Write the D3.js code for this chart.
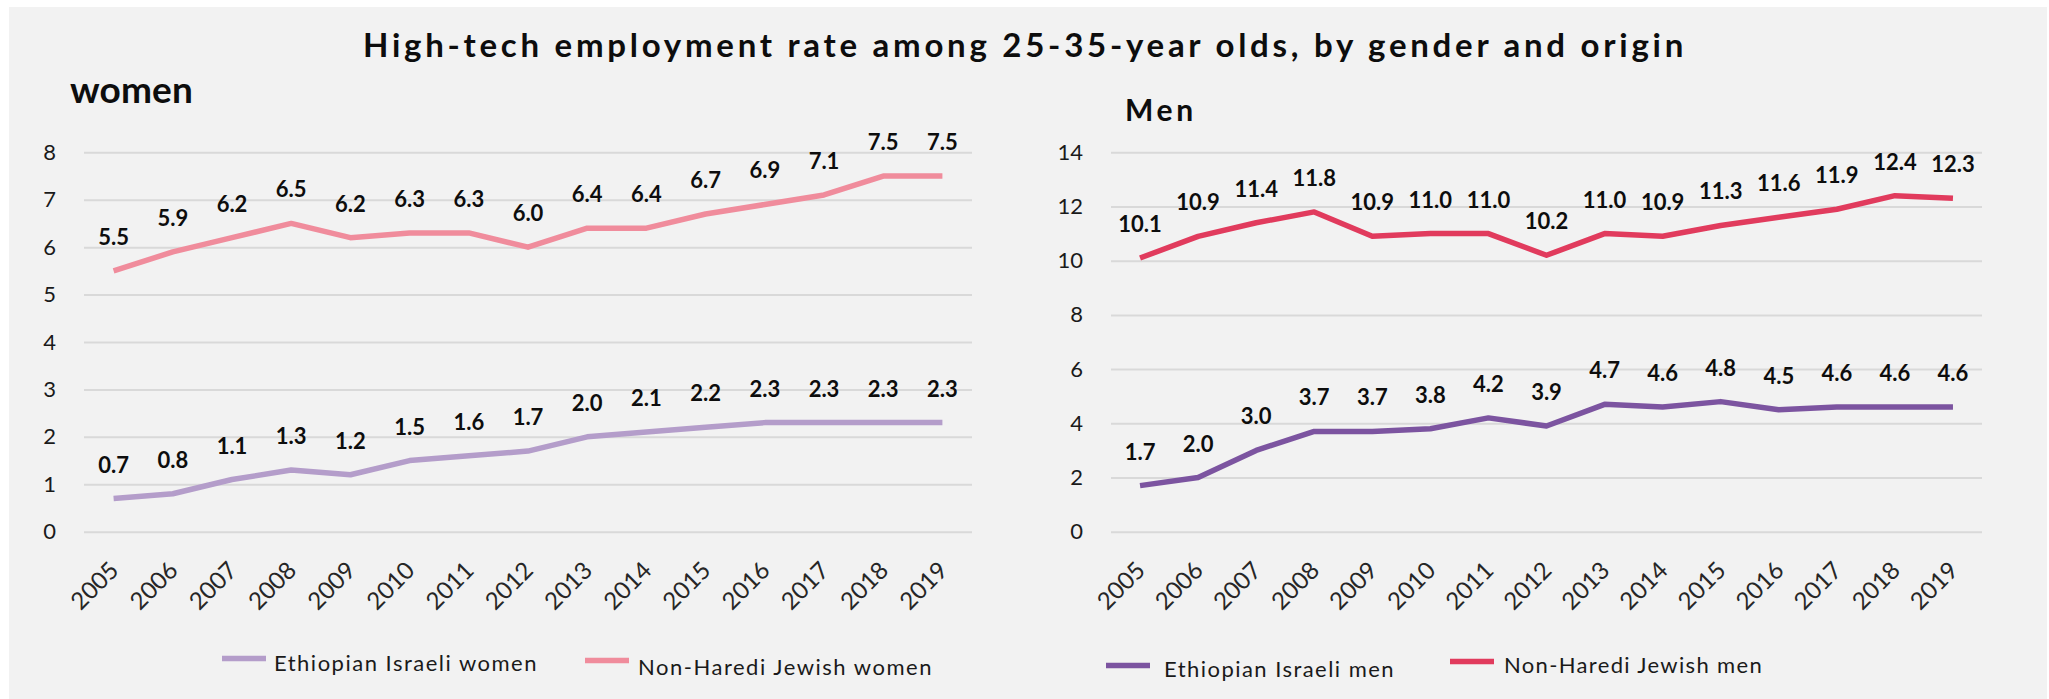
<!DOCTYPE html>
<html>
<head>
<meta charset="utf-8">
<script src="https://cdn.jsdelivr.net/npm/d3@7"></script>
<style>
  html, body { margin: 0; padding: 0; background: #ffffff; }
  svg { display: block; font-family: Lato, "Open Sans", "DejaVu Sans", sans-serif; }
</style>
</head>
<body>
<svg id="chart" width="2049" height="699"></svg>
<script>
// ---- data -------------------------------------------------------------
const years = ["2005", "2006", "2007", "2008", "2009", "2010", "2011", "2012",
               "2013", "2014", "2015", "2016", "2017", "2018", "2019"];

const womenEthiopian = [0.7, 0.8, 1.1, 1.3, 1.2, 1.5, 1.6, 1.7, 2.0, 2.1, 2.2, 2.3, 2.3, 2.3, 2.3];
const womenNonHaredi = [5.5, 5.9, 6.2, 6.5, 6.2, 6.3, 6.3, 6.0, 6.4, 6.4, 6.7, 6.9, 7.1, 7.5, 7.5];
const menEthiopian   = [1.7, 2.0, 3.0, 3.7, 3.7, 3.8, 4.2, 3.9, 4.7, 4.6, 4.8, 4.5, 4.6, 4.6, 4.6];
const menNonHaredi   = [10.1, 10.9, 11.4, 11.8, 10.9, 11.0, 11.0, 10.2, 11.0, 10.9, 11.3, 11.6, 11.9, 12.4, 12.3];

const womenTicks = [0, 1, 2, 3, 4, 5, 6, 7, 8];
const menTicks   = [0, 2, 4, 6, 8, 10, 12, 14];

const womenSeriesNames = ["Ethiopian Israeli women", "Non-Haredi Jewish women"];
const menSeriesNames   = ["Ethiopian Israeli men", "Non-Haredi Jewish men"];

const titleText = "High-tech employment rate among 25-35-year olds, by gender and origin";

// ---- drawing ----------------------------------------------------------
const svg = d3.select("#chart");
const FONT = 'Lato, "Open Sans", "DejaVu Sans", sans-serif';

svg.append("rect")
  .attr("x", 9).attr("y", 7)
  .attr("width", 2038).attr("height", 692)
  .attr("fill", "#f2f2f2");

// spread a text's letters so that it covers the given width
function fitWidth(sel, width) {
  const n = sel.text().length;
  const w = sel.node().getComputedTextLength();
  sel.attr("letter-spacing", ((width - w) / n).toFixed(3));
}

const title = svg.append("text")
  .attr("x", 363).attr("y", 57)
  .attr("font-family", FONT)
  .attr("font-weight", 700)
  .attr("font-size", 33)
  .attr("fill", "#0d0d0d")
  .text(titleText);
fitWidth(title, 1324);

const Y_BOTTOM = 531.7, Y_TOP = 152.3;

function drawPanel(cfg) {
  const g = svg.append("g");

  const x = d3.scalePoint().domain(years).range([cfg.x0, cfg.x1]).padding(0.5);
  const y = d3.scaleLinear().domain([0, d3.max(cfg.ticks)]).range([Y_BOTTOM, Y_TOP]);

  // panel heading
  const head = g.append("text")
    .attr("x", cfg.head.x).attr("y", cfg.head.y)
    .attr("font-family", FONT)
    .attr("font-weight", 700)
    .attr("font-size", cfg.head.size)
    .attr("fill", "#0d0d0d")
    .text(cfg.head.text);
  fitWidth(head, cfg.head.width);

  // value axis with gridlines
  g.append("g")
    .attr("transform", `translate(${cfg.x0},0)`)
    .call(d3.axisLeft(y)
      .tickValues(cfg.ticks)
      .tickSize(-(cfg.x1 - cfg.x0))
      .tickPadding(28)
      .tickFormat(d3.format("d")))
    .call(a => {
      a.select(".domain").remove();
      a.selectAll(".tick line").attr("stroke", "#d9d9d9").attr("stroke-width", 2);
      a.selectAll(".tick text")
        .attr("font-family", FONT)
        .attr("font-size", 22)
        .attr("fill", "#1a1a1a");
    });

  // year axis with slanted labels
  g.append("g")
    .attr("transform", `translate(0,${Y_BOTTOM})`)
    .call(d3.axisBottom(x).tickSize(0))
    .call(a => {
      a.select(".domain").remove();
      a.selectAll(".tick text")
        .attr("x", 0).attr("y", 0).attr("dy", "0.36em")
        .attr("text-anchor", "end")
        .attr("transform", "translate(0,34) rotate(-45)")
        .attr("font-family", FONT)
        .attr("font-size", 24)
        .attr("fill", "#262626");
    });

  const line = d3.line()
    .x((d, i) => x(years[i]))
    .y(d => y(d));

  cfg.series.forEach(s => {
    g.append("path")
      .datum(s.values)
      .attr("d", line)
      .attr("fill", "none")
      .attr("stroke", s.color)
      .attr("stroke-width", 5.5)
      .attr("stroke-linejoin", "round");
  });

  cfg.series.forEach(s => {
    g.append("g").selectAll("text")
      .data(s.values)
      .join("text")
      .attr("x", (d, i) => x(years[i]))
      .attr("y", d => y(d) - 26)
      .attr("text-anchor", "middle")
      .attr("font-family", FONT)
      .attr("font-weight", 700)
      .attr("font-size", 22)
      .attr("fill", "#0d0d0d")
      .text(d => d3.format(".1f")(d));
  });

  // legend
  cfg.series.forEach((s, i) => {
    const L = cfg.legend[i];
    g.append("line")
      .attr("x1", L.x).attr("x2", L.x + 44)
      .attr("y1", L.sy).attr("y2", L.sy)
      .attr("stroke", s.color)
      .attr("stroke-width", 5.5);
    const t = g.append("text")
      .attr("x", L.tx).attr("y", L.ty)
      .attr("font-family", FONT)
      .attr("font-size", 22)
      .attr("fill", "#1a1a1a")
      .text(s.name);
    fitWidth(t, L.tw);
  });
}

drawPanel({
  x0: 84, x1: 972,
  ticks: womenTicks,
  head: { text: "women", x: 70, y: 103, size: 37, width: 123 },
  series: [
    { name: womenSeriesNames[0], values: womenEthiopian, color: "#b49dca" },
    { name: womenSeriesNames[1], values: womenNonHaredi, color: "#f08c9c" }
  ],
  legend: [
    { x: 222, sy: 658.5, tx: 274, ty: 671, tw: 264 },
    { x: 585, sy: 660.5, tx: 638, ty: 675, tw: 295 }
  ]
});

drawPanel({
  x0: 1111, x1: 1982,
  ticks: menTicks,
  head: { text: "Men", x: 1125, y: 121, size: 30, width: 72 },
  series: [
    { name: menSeriesNames[0], values: menEthiopian, color: "#7c54a0" },
    { name: menSeriesNames[1], values: menNonHaredi, color: "#e13b5d" }
  ],
  legend: [
    { x: 1106, sy: 665.5, tx: 1164, ty: 677, tw: 231 },
    { x: 1450, sy: 661.5, tx: 1504, ty: 673, tw: 259 }
  ]
});
</script>
</body>
</html>
